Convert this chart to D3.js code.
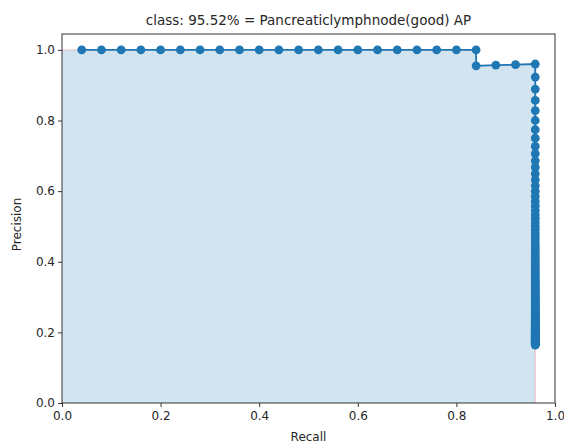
<!DOCTYPE html>
<html>
<head>
<meta charset="utf-8">
<script src="https://cdn.jsdelivr.net/npm/d3@7"></script>
<style>
  body { margin: 0; background: #fff; }
  text { font-family: "DejaVu Sans", sans-serif; fill: #262626; }
</style>
</head>
<body>
<div id="chart-area"></div>
<script>
// recall / precision pairs
const topRecall = [0.04, 0.08, 0.12, 0.16, 0.20, 0.24, 0.28, 0.32, 0.36, 0.40, 0.44,
  0.48, 0.52, 0.56, 0.60, 0.64, 0.68, 0.72, 0.76, 0.80, 0.84]
const topPrecision = [1, 1, 1, 1, 1, 1, 1, 1, 1, 1, 1, 1, 1, 1, 1, 1, 1, 1, 1, 1, 1]
const stepRecall = [0.84, 0.88, 0.92]
const stepPrecision = [0.955, 0.957, 0.958]
// last column, all at recall 0.96
const columnRecall = 0.96
const columnPrecision = [0.960, 0.923, 0.889, 0.857, 0.828, 0.800, 0.774, 0.750, 0.727, 0.706,
  0.686, 0.667, 0.649, 0.632, 0.615, 0.600, 0.585, 0.571, 0.558, 0.545, 0.533, 0.522, 0.511,
  0.500, 0.490, 0.480, 0.471, 0.462, 0.453, 0.444, 0.436, 0.429, 0.421, 0.414, 0.407, 0.400,
  0.393, 0.387, 0.381, 0.375, 0.369, 0.364, 0.358, 0.353, 0.348, 0.343, 0.338, 0.333, 0.329,
  0.324, 0.320, 0.316, 0.312, 0.308, 0.304, 0.300, 0.296, 0.293, 0.289, 0.286, 0.282, 0.279,
  0.276, 0.273, 0.270, 0.267, 0.264, 0.261, 0.258, 0.255, 0.253, 0.250, 0.247, 0.245, 0.242,
  0.240, 0.238, 0.235, 0.233, 0.231, 0.229, 0.226, 0.224, 0.222, 0.220, 0.218, 0.216, 0.214,
  0.212, 0.211, 0.209, 0.207, 0.205, 0.203, 0.202, 0.200, 0.198, 0.197, 0.195, 0.194, 0.192,
  0.190, 0.189, 0.188, 0.186, 0.185, 0.183, 0.182, 0.180, 0.179, 0.178, 0.176, 0.175, 0.174,
  0.173, 0.171, 0.170, 0.169, 0.168, 0.167, 0.166, 0.164]
const xTicks = [0, 0.2, 0.4, 0.6, 0.8, 1.0]
const yTicks = [0, 0.2, 0.4, 0.6, 0.8, 1.0]
const titleText = "class: 95.52% = Pancreaticlymphnode(good) AP"

const MARGIN = { LEFT: 62, RIGHT: 9, TOP: 34, BOTTOM: 42 }
const WIDTH = 564 - MARGIN.LEFT - MARGIN.RIGHT
const HEIGHT = 445 - MARGIN.TOP - MARGIN.BOTTOM
const BLUE = "#1f77b4"

const points = topRecall.map((r, i) => ({ r, p: topPrecision[i] }))
  .concat(stepRecall.map((r, i) => ({ r, p: stepPrecision[i] })))
  .concat(columnPrecision.map(p => ({ r: columnRecall, p })))

const svg = d3.select("#chart-area").append("svg")
  .attr("width", 564)
  .attr("height", 445)

const g = svg.append("g")
  .attr("transform", `translate(${MARGIN.LEFT}, ${MARGIN.TOP})`)

const x = d3.scaleLinear().domain([0, 1]).range([0, WIDTH])
const y = d3.scaleLinear().domain([0, 1.045]).range([HEIGHT, 0])

// shaded area under the curve, starting at (0, 1)
const envelope = [{ r: 0, p: 1 }].concat(points)
g.append("path")
  .datum(envelope)
  .attr("fill", BLUE)
  .attr("fill-opacity", 0.2)
  .attr("d", d3.area().x(d => x(d.r)).y0(y(0)).y1(d => y(d.p)))

// faint interpolated curve
const interp = envelope.concat([{ r: columnRecall, p: 0 }])
g.append("path")
  .datum(interp)
  .attr("fill", "none")
  .attr("stroke", "red")
  .attr("stroke-opacity", 0.15)
  .attr("stroke-width", 1.5)
  .attr("d", d3.line().x(d => x(d.r)).y(d => y(d.p)))

// main line + markers
g.append("path")
  .datum(points)
  .attr("fill", "none")
  .attr("stroke", BLUE)
  .attr("stroke-width", 1.8)
  .attr("d", d3.line().x(d => x(d.r)).y(d => y(d.p)))

g.selectAll(".dot")
  .data(points)
  .enter()
  .append("circle")
  .attr("class", "dot")
  .attr("cx", d => x(d.r))
  .attr("cy", d => y(d.p))
  .attr("r", 4.4)
  .attr("fill", BLUE)

// axes
const xAxis = g.append("g")
  .attr("transform", `translate(0, ${HEIGHT})`)
  .call(d3.axisBottom(x).tickValues(xTicks).tickFormat(d3.format(".1f")).tickSize(4).tickSizeOuter(0))
const yAxis = g.append("g")
  .call(d3.axisLeft(y).tickValues(yTicks).tickFormat(d3.format(".1f")).tickSize(4).tickSizeOuter(0))

;[xAxis, yAxis].forEach(a => {
  a.select(".domain").remove()
  a.selectAll("line").attr("stroke", "#333").attr("stroke-width", 1)
  a.selectAll("text").attr("font-size", "12px").style("fill", "#262626")
})
xAxis.selectAll("text").attr("dy", "0.85em")

// frame
g.append("rect")
  .attr("width", WIDTH)
  .attr("height", HEIGHT)
  .attr("fill", "none")
  .attr("stroke", "#333")
  .attr("stroke-width", 1)

// labels
svg.append("text")
  .attr("x", MARGIN.LEFT + WIDTH / 2)
  .attr("y", 25)
  .attr("text-anchor", "middle")
  .attr("font-size", "13.5px")
  .text(titleText)

svg.append("text")
  .attr("x", MARGIN.LEFT + WIDTH / 2)
  .attr("y", 441)
  .attr("text-anchor", "middle")
  .attr("font-size", "12px")
  .text("Recall")

svg.append("text")
  .attr("transform", `translate(21, ${MARGIN.TOP + HEIGHT / 2 + 6}) rotate(-90)`)
  .attr("text-anchor", "middle")
  .attr("font-size", "12px")
  .text("Precision")
</script>
</body>
</html>
